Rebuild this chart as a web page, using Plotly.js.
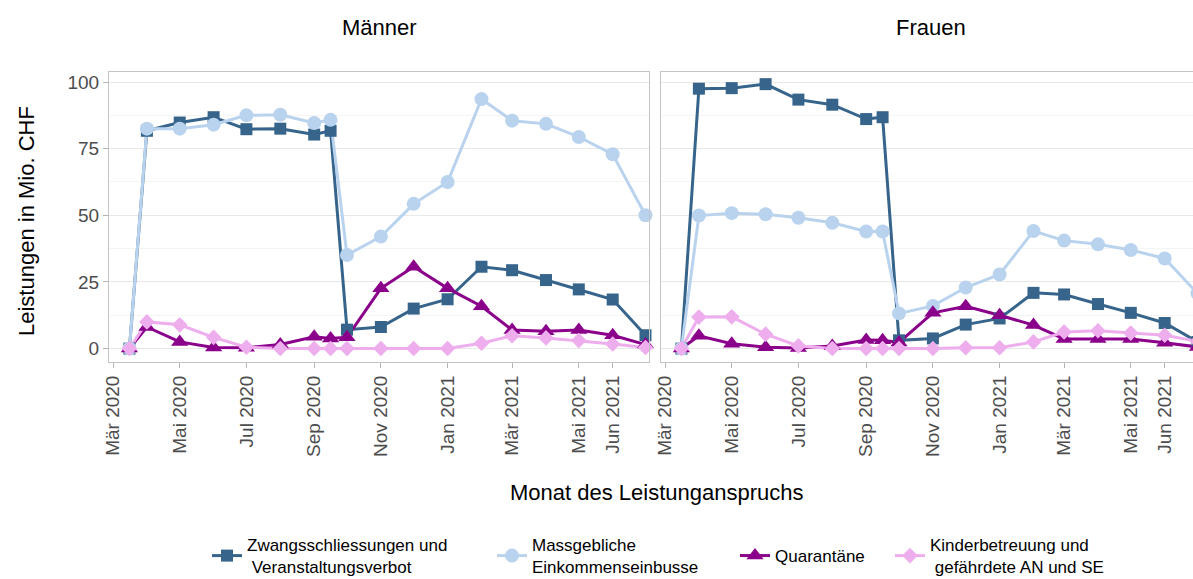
<!DOCTYPE html>
<html>
<head>
<meta charset="utf-8">
<script src="https://cdn.plot.ly/plotly-3.0.1.min.js"></script>
<style>
html, body { margin:0; padding:0; overflow:hidden; background:#fff; }
#chart { width:1210px; height:579px; }
</style>
</head>
<body>
<div id="chart"></div>
<script>
// ---- data ----
const dates = ['2020-03-16','2020-04-01','2020-05-01','2020-06-01','2020-07-01','2020-08-01','2020-09-01','2020-09-16','2020-10-01','2020-11-01','2020-12-01','2021-01-01','2021-02-01','2021-03-01','2021-04-01','2021-05-01','2021-06-01','2021-07-01'];

const panels = ['Männer', 'Frauen'];
const seriesNames = ['Zwangsschliessungen und<br>\u00a0Veranstaltungsverbot', 'Massgebliche<br>Einkommenseinbusse', 'Quarantäne', 'Kinderbetreuung und<br>\u00a0gefährdete AN und SE'];

const zwangsM = [0, 81.7, 84.8, 86.8, 82.3, 82.5, 80.3, 81.7, 7.1, 8.1, 15.0, 18.5, 30.7, 29.4, 25.7, 22.2, 18.4, 5.0];
const massM   = [0, 82.5, 82.5, 84.0, 87.5, 87.7, 84.6, 85.8, 35.1, 42.0, 54.3, 62.5, 93.6, 85.5, 84.3, 79.4, 72.9, 50.0];
const quarM   = [0, 8.1, 2.5, 0.4, 0.3, 1.5, 4.4, 3.8, 4.2, 22.6, 30.7, 22.6, 15.9, 7.0, 6.5, 7.0, 5.0, 1.5];
const kindM   = [0, 10.0, 8.9, 4.2, 0.5, 0, 0, 0, 0, 0, 0, 0, 2.0, 4.8, 4.0, 3.0, 1.7, 0.4];

const zwangsF = [0, 97.5, 97.7, 99.2, 93.4, 91.5, 86.1, 86.8, 3.1, 3.8, 9.0, 11.3, 20.9, 20.3, 16.7, 13.4, 9.6, 2.5];
const massF   = [0, 49.9, 50.8, 50.4, 49.1, 47.2, 43.9, 43.9, 13.2, 16.0, 22.9, 27.8, 44.1, 40.5, 39.1, 37.0, 33.8, 20.7];
const quarF   = [0, 4.8, 1.8, 0.5, 0.2, 1.0, 3.2, 3.1, 2.3, 13.4, 15.9, 12.5, 8.8, 3.6, 3.6, 3.6, 2.2, 0.6];
const kindF   = [0, 11.8, 11.9, 5.4, 1.0, 0, 0, 0, 0, 0, 0.3, 0.3, 2.5, 6.2, 6.7, 5.8, 5.0, 2.7];

const tickVals = ['2020-03-01','2020-05-01','2020-07-01','2020-09-01','2020-11-01','2021-01-01','2021-03-01','2021-05-01','2021-06-01'];
const tickText = ['Mär 2020','Mai 2020','Jul 2020','Sep 2020','Nov 2020','Jan 2021','Mär 2021','Mai 2021','Jun 2021'];

// ---- styles ----
const colors  = ['#36648B', '#B9D3EE', '#8B008B', '#EEAEEE'];
const symbols = ['square', 'circle', 'triangle-up', 'diamond'];
const sizes   = [12, 14, 15, 12];

const panelData = [[zwangsM, massM, quarM, kindM], [zwangsF, massF, quarF, kindF]];
const traces = [];
panelData.forEach((ser, p) => {
  const xa = p === 0 ? 'x' : 'x2';
  const ya = p === 0 ? 'y' : 'y2';
  ser.forEach((vals, i) => {
    traces.push({x: dates, y: vals, xaxis: xa, yaxis: ya, type: 'scatter', mode: 'lines',
      line: {color: colors[i], width: 3}, showlegend: false, hoverinfo: 'skip', cliponaxis: false});
  });
  ser.forEach((vals, i) => {
    traces.push({x: dates, y: vals, xaxis: xa, yaxis: ya, type: 'scatter', mode: 'markers',
      marker: {color: colors[i], symbol: symbols[i], size: sizes[i], line: {width: 0}},
      showlegend: false, hoverinfo: 'skip', cliponaxis: false});
  });
});
// legend entries
const legIds = ['legend', 'legend2', 'legend3', 'legend4'];
seriesNames.forEach((nm, i) => {
  traces.push({x: [null], y: [null], type: 'scatter', mode: 'lines+markers', name: nm,
    legend: legIds[i],
    line: {color: colors[i], width: 3},
    marker: {color: colors[i], symbol: symbols[i], size: sizes[i]}});
});

const W = 1210, H = 579, L = 109, R = W - 1201, T = 72, B = H - 362;
const pw = W - L - R;
const cx = v => v / W;
const cy = v => 1 - v / H;

const xRange = ['2020-02-26 08:00', '2021-07-04 05:00'];
const font = 'Liberation Sans, Arial, sans-serif';

const xBase = {
  type: 'date', range: xRange, tickvals: tickVals, ticktext: tickText, tickangle: -90,
  ticks: 'outside', ticklen: 5, tickcolor: '#b3b3b3', tickwidth: 1,
  tickfont: {family: font, size: 19, color: '#4d4d4d'},
  showgrid: false, zeroline: false, automargin: false,
  showline: true, mirror: true, linecolor: '#c4c4c4', linewidth: 1
};
const yBase = {
  range: [-5.04, 103.76], tickvals: [0, 25, 50, 75, 100],
  showgrid: true, gridcolor: '#e8e8e8', gridwidth: 1,
  minor: {tickvals: [12.5, 37.5, 62.5, 87.5], showgrid: true, gridcolor: '#f4f4f4', gridwidth: 1, ticks: ''},
  zeroline: false, showline: true, mirror: true, linecolor: '#c4c4c4', linewidth: 1, automargin: false,
  tickfont: {family: font, size: 19, color: '#4d4d4d'}
};

const legBase = {orientation: 'h', xref: 'container', yref: 'container', xanchor: 'left', yanchor: 'middle', y: cy(556),
  font: {family: font, size: 17, color: '#000'}, bgcolor: 'rgba(0,0,0,0)', borderwidth: 0,
  itemclick: false, itemdoubleclick: false};
const legStarts = [207, 492, 735, 890];

const ann = (text, x, y, extra) => Object.assign({text, xref: 'paper', yref: 'paper', x, y,
  xanchor: 'center', yanchor: 'middle', showarrow: false, font: {family: font, size: 22, color: '#000'}}, extra || {});
const px2x = v => (v - L) / pw;
const px2y = v => (H - B - v) / (H - T - B);

const layout = {
  width: W, height: H,
  margin: {l: L, r: R, t: T, b: B, pad: 0, autoexpand: false},
  paper_bgcolor: '#fff', plot_bgcolor: '#fff',
  font: {family: font},
  xaxis: Object.assign({}, xBase, {domain: [0, 540 / pw], anchor: 'y'}),
  xaxis2: Object.assign({}, xBase, {domain: [552 / pw, 1], anchor: 'y2'}),
  yaxis: Object.assign({}, yBase, {anchor: 'x', ticks: 'outside', ticklen: 5, tickcolor: '#b3b3b3'}),
  yaxis2: Object.assign({}, yBase, {anchor: 'x2', matches: 'y', showticklabels: false, ticks: ''}),
  legend: Object.assign({}, legBase, {x: cx(legStarts[0])}),
  legend2: Object.assign({}, legBase, {x: cx(legStarts[1])}),
  legend3: Object.assign({}, legBase, {x: cx(legStarts[2])}),
  legend4: Object.assign({}, legBase, {x: cx(legStarts[3])}),
  showlegend: true,
  annotations: [
    ann(panels[0], px2x(379), px2y(27)),
    ann(panels[1], px2x(931), px2y(27)),
    ann('Monat des Leistunganspruchs', px2x(657), px2y(492)),
    ann('Leistungen in Mio. CHF', px2x(26), px2y(221), {textangle: -90})
  ]
};

Plotly.newPlot('chart', traces, layout, {displayModeBar: false, staticPlot: true});
</script>
</body>
</html>
